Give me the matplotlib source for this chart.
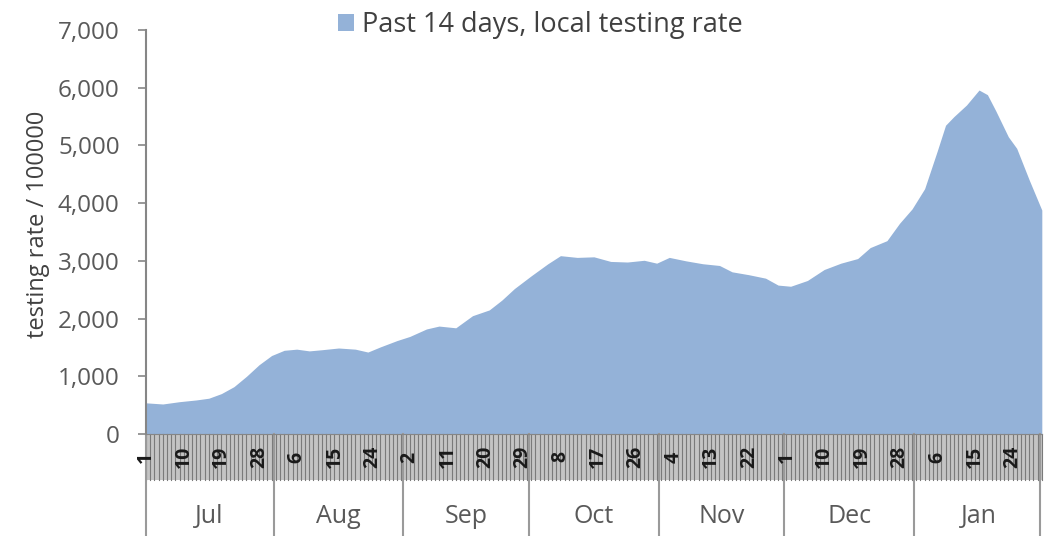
import numpy as np
import matplotlib.pyplot as plt
import matplotlib.ticker as mticker

plt.rcParams['font.family'] = ['Open Sans', 'DejaVu Sans']

START = np.datetime64('2020-07-01')
END = np.datetime64('2021-01-31')

# sampled readings of the 14-day testing rate (per 100000)
dates = ['2020-07-01', '2020-07-05', '2020-07-09', '2020-07-13', '2020-07-16',
         '2020-07-19', '2020-07-22', '2020-07-25', '2020-07-28', '2020-07-31',
         '2020-08-03', '2020-08-06', '2020-08-09', '2020-08-12', '2020-08-16',
         '2020-08-20', '2020-08-23', '2020-08-26', '2020-08-30', '2020-09-02',
         '2020-09-06', '2020-09-09', '2020-09-13', '2020-09-17', '2020-09-21',
         '2020-09-24', '2020-09-27', '2020-10-01', '2020-10-05', '2020-10-08',
         '2020-10-12', '2020-10-16', '2020-10-20', '2020-10-24', '2020-10-28',
         '2020-10-31', '2020-11-03', '2020-11-07', '2020-11-11', '2020-11-15',
         '2020-11-18', '2020-11-22', '2020-11-26', '2020-11-29', '2020-12-02',
         '2020-12-06', '2020-12-10', '2020-12-14', '2020-12-18', '2020-12-21',
         '2020-12-25', '2020-12-28', '2020-12-31', '2021-01-03', '2021-01-06',
         '2021-01-08', '2021-01-10', '2021-01-13', '2021-01-16', '2021-01-18',
         '2021-01-20', '2021-01-23', '2021-01-25', '2021-01-28', '2021-01-31']
rates = [540, 520, 560, 590, 620,
         700, 820, 1000, 1200, 1360,
         1450, 1470, 1440, 1460, 1490,
         1470, 1420, 1510, 1620, 1690,
         1820, 1870, 1840, 2050, 2150,
         2320, 2520, 2740, 2950, 3090,
         3060, 3070, 2990, 2980, 3010,
         2960, 3060, 3000, 2950, 2920,
         2810, 2760, 2700, 2580, 2560,
         2660, 2850, 2960, 3040, 3230,
         3350, 3650, 3900, 4250, 4900,
         5350, 5500, 5700, 5960, 5880,
         5600, 5150, 4950, 4400, 3880]

months = ['Jul', 'Aug', 'Sep', 'Oct', 'Nov', 'Dec', 'Jan']
month_starts = ['2020-07-01', '2020-08-01', '2020-09-01', '2020-10-01',
                '2020-11-01', '2020-12-01', '2021-01-01', '2021-02-01']

GREY = '#595959'
AXIS = '#868686'
FILL = '#94B2D8'

x = (np.array(dates, dtype='datetime64[D]') - START).astype(int)
ndays = int((END - START).astype(int)) + 1
all_days = START + np.arange(ndays)
mstart = (np.array(month_starts, dtype='datetime64[D]') - START).astype(int)

fig = plt.figure(figsize=(10.46, 5.36), dpi=100)
ax = fig.add_axes([0.1396, 0.1903, 0.8564, 0.7537])

ax.fill_between(x, rates, color=FILL, lw=0, label='Past 14 days, local testing rate')
ax.set_xlim(0, ndays - 1)
ax.set_ylim(0, 7000)

ax.yaxis.set_major_locator(mticker.MultipleLocator(1000))
ax.yaxis.set_major_formatter(mticker.StrMethodFormatter('{x:,.0f}'))
ax.tick_params(axis='y', colors=AXIS, labelcolor=GREY, labelsize=17.5,
               length=6, width=1.2, direction='out', pad=13)
ax.set_xticks([])
for s in ['top', 'right']:
    ax.spines[s].set_visible(False)
ax.spines['left'].set_color(AXIS)
ax.spines['left'].set_linewidth(1.5)
ax.spines['bottom'].set_color(AXIS)
ax.set_ylabel('testing rate / 100000', fontsize=17, color='#404040')
ax.yaxis.set_label_coords(-0.107, 0.52)

# category axis: daily ticks band + month row
tr = ax.get_xaxis_transform()
band = -46 / 404
mrow = -98 / 404
ax.fill_between([0, ndays - 1], band, 0, transform=tr, color='#c4c4c4',
                lw=0, clip_on=False)
for d in range(ndays):
    ax.plot([d, d], [band, 0], transform=tr, color='#7a7a7a', lw=0.8,
            clip_on=False)
for d in range(0, ndays, 9):
    day = all_days[d].astype(object).day
    ax.text(d, band / 2, str(day), transform=tr, rotation=90, ha='center',
            va='center', fontsize=14, color='#1a1a1a', fontweight='bold')
for m in mstart:
    xm = min(m, ndays - 1) - 0.5 if m > 0 else 0
    ax.plot([xm, xm], [mrow - 0.01, 0], transform=tr, color='#9a9a9a',
            lw=1.5, clip_on=False)
for i, name in enumerate(months):
    xc = (mstart[i] + mstart[i + 1] - 1) / 2
    ax.text(xc, -83 / 404, name, transform=tr, ha='center', va='center',
            fontsize=18, color=GREY)

ax.legend(loc='center', bbox_to_anchor=(0.44, 1.013), frameon=False,
          fontsize=19.5, handlelength=0.6, handleheight=0.6, handletextpad=0.3,
          labelcolor='#404040', borderpad=0)

fig.savefig('out.png', dpi=100)
